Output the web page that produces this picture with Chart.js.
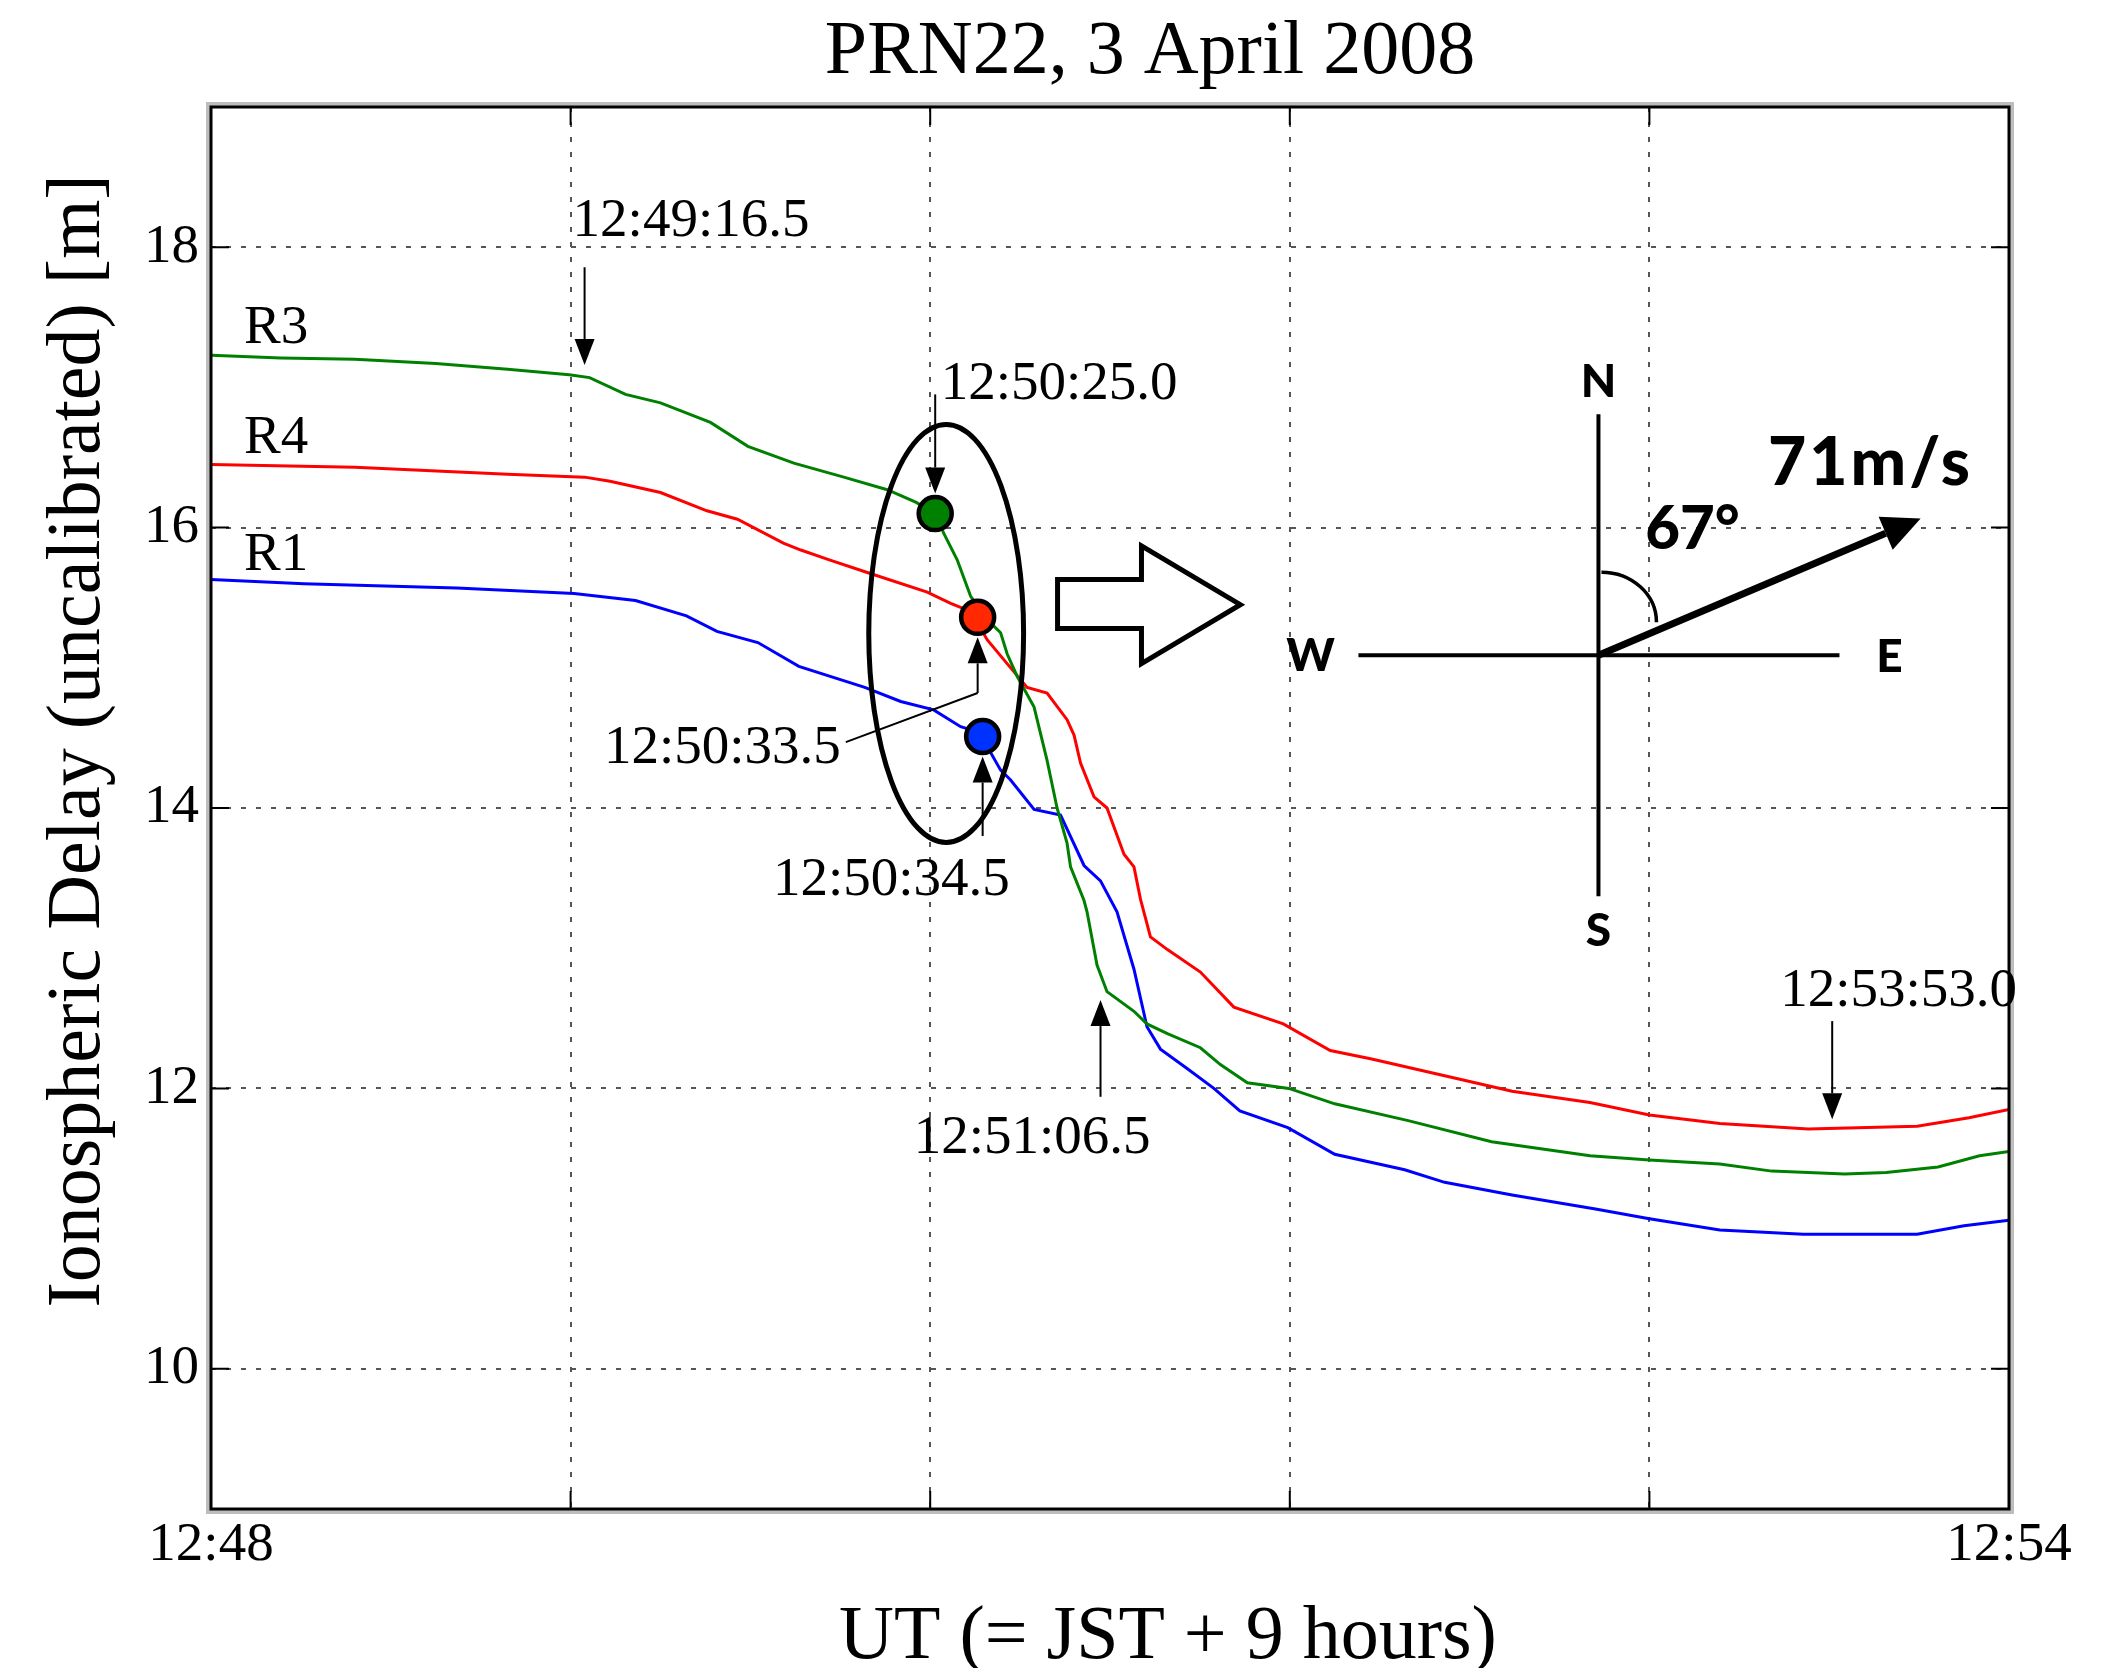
<!DOCTYPE html>
<html>
<head>
<meta charset="utf-8">
<title>PRN22, 3 April 2008</title>
<script src="https://cdn.jsdelivr.net/npm/chart.js@4.4.1/dist/chart.umd.min.js"></script>
<style>
  html, body { margin: 0; padding: 0; background: #ffffff; }
  canvas { display: block; }
</style>
</head>
<body>
<canvas id="chart" width="2115" height="1668"></canvas>
<script>
// Time axis is in seconds after 12:48:00 UT.
const xGridSec = [0, 72, 144, 216, 288, 360];
const xTickLabels = ['12:48', '', '', '', '', '12:54'];
const yTickValues = [10, 12, 14, 16, 18];

const seriesNames = ['R3', 'R4', 'R1'];

// R3 (green)
const r3Time = [0, 14, 28.8, 45, 59.4, 71.7, 75.8, 83, 90, 100,
  107.5, 116.7, 126.7, 135.4, 141.2, 145, 146.7, 149.4, 152.1, 156.1,
  158.1, 159.4, 161.4, 164.8, 167.4, 169.4, 171.4, 172.1, 174.8, 175.4,
  177.4, 179.4, 184.8, 187.4, 191.5, 198.1, 202.1, 207.5, 215.8, 225,
  239.7, 256.4, 276.1, 288, 302.1, 312.5, 327.1, 335.4, 345.8, 354.1, 360];
const r3Delay = [17.23, 17.21, 17.20, 17.17, 17.13, 17.09, 17.07, 16.95, 16.89, 16.75,
  16.58, 16.46, 16.36, 16.27, 16.18, 16.10, 15.96, 15.77, 15.51, 15.32,
  15.25, 15.10, 14.94, 14.72, 14.34, 14.00, 13.75, 13.58, 13.34, 13.26,
  12.88, 12.69, 12.55, 12.46, 12.39, 12.29, 12.17, 12.04, 12.00, 11.89,
  11.77, 11.62, 11.52, 11.49, 11.46, 11.41, 11.39, 11.40, 11.44, 11.52, 11.55];

// R4 (red)
const r4Time = [0, 28.8, 59.4, 74.8, 79.9, 90, 99.3, 105.4, 114.6, 118.1,
  123.8, 131.4, 143.4, 148.1, 152.2, 155.4, 159.4, 163.4, 167.4, 171.4,
  172.8, 174.1, 176.8, 179.4, 182.8, 184.8, 186.1, 188.1, 191.5, 198.1,
  204.8, 214.7, 224.1, 232.4, 247, 260.5, 276.1, 288, 302.1, 319.8,
  341.6, 352, 360];
const r4Delay = [16.45, 16.43, 16.38, 16.36, 16.33, 16.25, 16.12, 16.06, 15.89, 15.84,
  15.77, 15.68, 15.54, 15.46, 15.40, 15.20, 15.03, 14.86, 14.82, 14.63,
  14.52, 14.32, 14.08, 14.00, 13.67, 13.58, 13.35, 13.08, 12.99, 12.83,
  12.58, 12.46, 12.27, 12.21, 12.09, 11.98, 11.90, 11.81, 11.75, 11.71,
  11.73, 11.79, 11.85];

// R1 (blue)
const r1Time = [0, 18.6, 49.2, 72.7, 85, 95.2, 101.3, 109.5, 117.7, 130.9,
  138.1, 144.7, 150.1, 153.8, 158.1, 160.1, 164.8, 170.1, 174.8, 178.1,
  181.4, 184.8, 187.4, 190.1, 195.5, 200.8, 206, 215.6, 225, 239,
  247, 260.5, 277.2, 288, 302.1, 318.8, 341.6, 351, 360];
const r1Delay = [15.63, 15.60, 15.57, 15.53, 15.48, 15.37, 15.26, 15.18, 15.01, 14.86,
  14.76, 14.70, 14.58, 14.54, 14.27, 14.20, 13.99, 13.95, 13.59, 13.48,
  13.26, 12.85, 12.44, 12.28, 12.14, 12.00, 11.84, 11.72, 11.53, 11.42,
  11.33, 11.24, 11.14, 11.07, 10.99, 10.96, 10.96, 11.02, 11.06];

// Onset markers: 12:50:25.0 (R3), 12:50:33.5 (R4), 12:50:34.5 (R1)
const markerTime = [145, 153.5, 154.5];
const markerDelay = [16.10, 15.36, 14.51];

const timeNotes = ['12:49:16.5', '12:50:25.0', '12:50:33.5', '12:50:34.5', '12:51:06.5', '12:53:53.0'];

const chartTitle = 'PRN22, 3 April 2008';
const xTitle = 'UT (= JST + 9 hours)';
const yTitle = 'Ionospheric Delay (uncalibrated) [m]';
const speedText = '71m/s';
const azimuthDeg = 67;

const SERIF = '"Liberation Serif", "Times New Roman", Times, serif';
const SANS = 'Lato, "DejaVu Sans", sans-serif';

const pts = (ts, vs) => ts.map((t, i) => ({ x: t, y: vs[i] }));

function arrowTo(ctx, x1, y1, x2, y2, len, wid) {
  const ang = Math.atan2(y2 - y1, x2 - x1);
  const bx = x2 - Math.cos(ang) * len, by = y2 - Math.sin(ang) * len;
  ctx.beginPath();
  ctx.moveTo(x1, y1);
  ctx.lineTo(bx, by);
  ctx.stroke();
  const nx = -Math.sin(ang) * wid / 2, ny = Math.cos(ang) * wid / 2;
  ctx.beginPath();
  ctx.moveTo(x2, y2);
  ctx.lineTo(bx + nx, by + ny);
  ctx.lineTo(bx - nx, by - ny);
  ctx.closePath();
  ctx.fill();
}

const figureOverlay = {
  id: 'figureOverlay',
  afterDraw(chart) {
    const { ctx, chartArea: a } = chart;
    const xs = chart.scales.x, ys = chart.scales.y;
    const X = v => xs.getPixelForValue(v);
    const Y = v => ys.getPixelForValue(v);
    ctx.save();

    // inward tick marks on all four sides
    ctx.strokeStyle = '#000';
    ctx.lineWidth = 2;
    ctx.beginPath();
    xGridSec.slice(1, -1).forEach(t => {
      const px = X(t);
      ctx.moveTo(px, a.bottom); ctx.lineTo(px, a.bottom - 18);
      ctx.moveTo(px, a.top); ctx.lineTo(px, a.top + 18);
    });
    yTickValues.forEach(v => {
      const py = Y(v);
      ctx.moveTo(a.left, py); ctx.lineTo(a.left + 18, py);
      ctx.moveTo(a.right, py); ctx.lineTo(a.right - 18, py);
    });
    ctx.stroke();

    // axes box
    ctx.strokeStyle = '#bdbdbd';
    ctx.lineWidth = 4;
    ctx.strokeRect(a.left - 3, a.top - 3, a.right - a.left + 6, a.bottom - a.top + 6);
    ctx.strokeStyle = '#000';
    ctx.lineWidth = 3;
    ctx.strokeRect(a.left, a.top, a.right - a.left, a.bottom - a.top);

    // series names
    ctx.fillStyle = '#000';
    ctx.font = '55px ' + SERIF;
    ctx.textAlign = 'left';
    ctx.textBaseline = 'alphabetic';
    const namePos = [17.32, 16.53, 15.70];
    seriesNames.forEach((n, i) => ctx.fillText(n, X(6.6), Y(namePos[i])));

    // time labels
    const notePos = [[72.4, 18.08], [146.1, 16.92], [78.7, 14.32], [112.5, 13.38], [140.7, 11.54], [314.2, 12.59]];
    timeNotes.forEach((s, i) => ctx.fillText(s, X(notePos[i][0]), Y(notePos[i][1])));

    // pointer arrows
    ctx.lineWidth = 2;
    ctx.strokeStyle = '#000';
    const dotR = 19;
    arrowTo(ctx, X(74.8), Y(17.857), X(74.8), Y(17.16), 26, 20);
    arrowTo(ctx, X(324.6), Y(12.48), X(324.6), Y(11.78), 26, 20);
    arrowTo(ctx, X(178.1), Y(11.94), X(178.1), Y(12.63), 26, 20);
    // to the onset markers
    const gx = X(markerTime[0]), gy = Y(markerDelay[0]);
    arrowTo(ctx, gx, Y(16.95), gx, gy - dotR - 1, 26, 20);
    const rx = X(markerTime[1]), ry = Y(markerDelay[1]);
    ctx.beginPath();
    ctx.moveTo(X(127.1), Y(14.47));
    ctx.lineTo(rx, Y(14.82));
    ctx.stroke();
    arrowTo(ctx, rx, Y(14.82), rx, ry + dotR + 1, 26, 20);
    const bx = X(markerTime[2]), by = Y(markerDelay[2]);
    arrowTo(ctx, bx, Y(13.80), bx, by + dotR + 1, 26, 20);

    // ellipse around the onset markers
    ctx.lineWidth = 5;
    ctx.beginPath();
    const ecx = X(147.2), ecy = Y(15.245);
    ctx.ellipse(ecx, ecy, X(147.2 + 15.5) - ecx, Y(15.245 - 1.491) - ecy, 0, 0, Math.PI * 2);
    ctx.stroke();

    // hollow block arrow
    const block = [[169.5, 15.63], [186.3, 15.63], [186.3, 15.87], [206.1, 15.45],
                   [186.3, 15.03], [186.3, 15.28], [169.5, 15.28]];
    ctx.beginPath();
    block.forEach((p, i) => i ? ctx.lineTo(X(p[0]), Y(p[1])) : ctx.moveTo(X(p[0]), Y(p[1])));
    ctx.closePath();
    ctx.fillStyle = '#fff';
    ctx.fill();
    ctx.lineWidth = 5;
    ctx.lineJoin = 'miter';
    ctx.stroke();

    // compass with propagation direction
    const cx = X(277.8), cy = Y(15.09);
    ctx.lineWidth = 4;
    ctx.lineJoin = 'round';
    ctx.beginPath();
    ctx.moveTo(cx, cy - 241); ctx.lineTo(cx, cy + 241);
    ctx.moveTo(cx - 240, cy); ctx.lineTo(cx + 241, cy);
    ctx.stroke();
    ctx.fillStyle = '#000';
    ctx.font = '900 46px ' + SANS;
    ctx.textAlign = 'center';
    ctx.textBaseline = 'middle';
    ctx.fillText('N', cx, cy - 273);
    ctx.fillText('S', cx, cy + 276);
    ctx.fillText('W', cx - 288, cy + 1);
    ctx.fillText('E', cx + 291, cy + 2);
    const ang = azimuthDeg * Math.PI / 180;
    const L = 350;
    ctx.lineWidth = 7;
    ctx.lineCap = 'butt';
    arrowTo(ctx, cx, cy, cx + L * Math.sin(ang), cy - L * Math.cos(ang), 38, 36);
    ctx.lineWidth = 3.5;
    ctx.beginPath();
    ctx.ellipse(cx + 3, cy - 33, 55, 50, 0, -Math.PI / 2, 0);
    ctx.stroke();
    ctx.font = '900 60px ' + SANS;
    ctx.fillText(azimuthDeg + '\u00B0', cx + 94, cy - 126);
    ctx.font = '900 66px ' + SANS;
    ctx.letterSpacing = '3px';
    ctx.fillText(speedText, cx + 272, cy - 191);
    ctx.letterSpacing = '0px';

    // titles
    ctx.font = '76px ' + SERIF;
    ctx.textAlign = 'center';
    ctx.textBaseline = 'alphabetic';
    ctx.fillText(chartTitle, 1150, 73);
    ctx.fillText(xTitle, 1168, 1658);
    ctx.translate(99, 741);
    ctx.rotate(-Math.PI / 2);
    ctx.fillText(yTitle, 0, 0);

    ctx.restore();
  }
};

const gridStyle = { color: '#555555', lineWidth: 2, drawTicks: false };

new Chart(document.getElementById('chart'), {
  type: 'line',
  data: {
    datasets: [
      {
        type: 'scatter',
        label: 'onset',
        data: pts(markerTime, markerDelay),
        pointRadius: 16.5,
        pointBorderWidth: 4.5,
        pointBorderColor: '#000',
        pointBackgroundColor: ['rgb(0,128,0)', 'rgb(255,40,0)', 'rgb(0,50,255)'],
        showLine: false
      },
      { label: seriesNames[0], data: pts(r3Time, r3Delay), borderColor: 'rgb(0,128,0)', borderWidth: 3, pointRadius: 0, tension: 0, fill: false },
      { label: seriesNames[1], data: pts(r4Time, r4Delay), borderColor: 'rgb(255,0,0)', borderWidth: 3, pointRadius: 0, tension: 0, fill: false },
      { label: seriesNames[2], data: pts(r1Time, r1Delay), borderColor: 'rgb(0,0,255)', borderWidth: 3, pointRadius: 0, tension: 0, fill: false }
    ]
  },
  options: {
    responsive: false,
    animation: false,
    devicePixelRatio: 1,
    layout: { padding: { left: 132, right: 106, top: 107, bottom: 85 } },
    plugins: {
      legend: { display: false },
      tooltip: { enabled: false },
      title: { display: false }
    },
    scales: {
      x: {
        type: 'linear',
        min: 0,
        max: 360,
        afterBuildTicks: s => { s.ticks = xGridSec.map(v => ({ value: v })); },
        ticks: {
          autoSkip: false,
          maxRotation: 0,
          padding: 4,
          color: '#000',
          font: { family: SERIF, size: 55 },
          callback: (v, i) => xTickLabels[i]
        },
        grid: gridStyle,
        border: { display: false, dash: [5, 10] }
      },
      y: {
        min: 9,
        max: 19,
        afterBuildTicks: s => { s.ticks = yTickValues.map(v => ({ value: v })); },
        ticks: {
          padding: 12,
          color: '#000',
          font: { family: SERIF, size: 55 },
          callback: v => String(v)
        },
        grid: gridStyle,
        border: { display: false, dash: [5, 10] }
      }
    }
  },
  plugins: [figureOverlay]
});
</script>
</body>
</html>
